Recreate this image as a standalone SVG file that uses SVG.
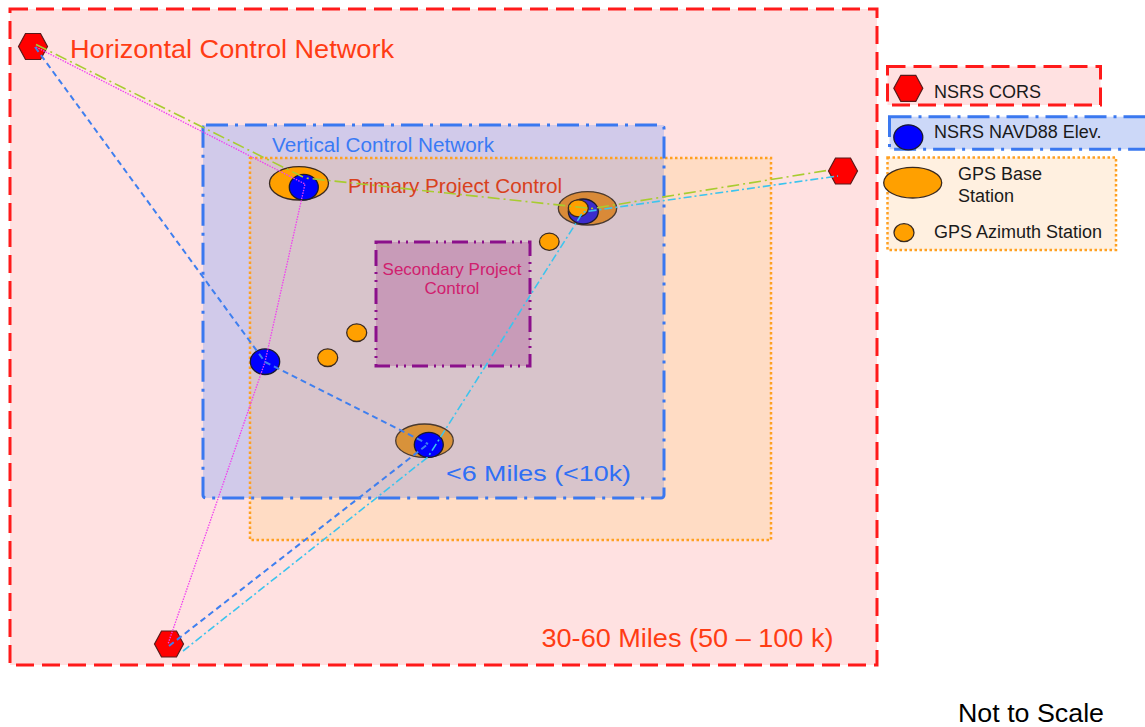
<svg xmlns="http://www.w3.org/2000/svg" width="1145" height="727" viewBox="0 0 1145 727">
<style>
text{font-family:"Liberation Sans",Arial,sans-serif}
.hex{fill:#ff0000;stroke:#5a1a1a;stroke-width:1.2}
.orng{fill:#ffa000;stroke:#3a2a20;stroke-width:1.3}
.blu{fill:#0000ff;stroke:#1a1a30;stroke-width:1.3}
.lg{font-size:18px;fill:#1a1a1a}
.c-green{fill:none;stroke:#a8cc30;stroke-width:1.6;stroke-dasharray:12,4,2,4}
.c-mag{fill:none;stroke:#f040f0;stroke-width:1.3;stroke-dasharray:1.5,1.2}
.c-blue{fill:none;stroke:#3f7fef;stroke-width:2;stroke-dasharray:6,4}
.c-cyan{fill:none;stroke:#3cc4ee;stroke-width:1.6;stroke-dasharray:8,3,2,3}
</style>
<defs>
<polygon id="hexshape" points="-14.5,0 -7.5,-13 7.5,-13 14.5,0 7.5,13 -7.5,13"/>
</defs>
<rect width="1145" height="727" fill="#ffffff"/>

<g id="regions">
<rect id="horizontal-area" x="10" y="9" width="867" height="656" fill="#ffe1e1" stroke="#ff1a1a" stroke-width="3" stroke-dasharray="18,8"/>
<rect x="250" y="158" width="521" height="382" fill="#ffdcc4"/>
<rect x="203" y="125" width="461" height="373" fill="#d1caea"/>
<rect x="250" y="158" width="414" height="340" fill="#d8c4cb"/>
<rect id="gps-area" x="250" y="158" width="521" height="382" fill="none" stroke="#ffa020" stroke-width="2.5" stroke-dasharray="2.5,2.5"/>
<rect id="vertical-area" x="203" y="125" width="461" height="373" rx="3" fill="none" stroke="#3a78f0" stroke-width="3" stroke-dasharray="22,7,3,7"/>
<rect id="secondary-area" x="376" y="242" width="154" height="124" fill="#c89bb8" stroke="#8b108b" stroke-width="3" stroke-dasharray="16,6,2,6,2,6"/>
</g>

<g id="labels">
<text x="70" y="58" font-size="26.5" fill="#ff3c14" textLength="324" lengthAdjust="spacingAndGlyphs">Horizontal Control Network</text>
<text x="272" y="151.5" font-size="20.5" fill="#3a7af5" textLength="222" lengthAdjust="spacingAndGlyphs">Vertical Control Network</text>
<text x="348" y="192.5" font-size="21" fill="#d8401c" textLength="214" lengthAdjust="spacingAndGlyphs">Primary Project Control</text>
<text x="452" y="275" font-size="17" fill="#d0206e" text-anchor="middle">Secondary Project</text>
<text x="452" y="294" font-size="17" fill="#d0206e" text-anchor="middle">Control</text>
<text x="446" y="480.5" font-size="22.5" fill="#2f6ff5" textLength="185" lengthAdjust="spacingAndGlyphs">&lt;6 Miles (&lt;10k)</text>
<text x="541.5" y="646.5" font-size="25.5" fill="#ff3c14" textLength="292" lengthAdjust="spacingAndGlyphs">30-60 Miles (50 – 100 k)</text>
<text x="958" y="721.5" font-size="25.5" fill="#000000" textLength="146" lengthAdjust="spacingAndGlyphs">Not to Scale</text>
</g>

<g id="node-cors-tl"><use href="#hexshape" class="hex" x="33" y="46.5"/></g>
<g id="node-cors-right"><use href="#hexshape" class="hex" x="843" y="171"/></g>
<g id="node-cors-bottom"><use href="#hexshape" class="hex" x="169" y="644"/></g>

<g id="node-base1">
<ellipse class="orng" cx="299" cy="183.3" rx="29.5" ry="16.7"/>
<ellipse class="blu" cx="303.8" cy="187.2" rx="14.5" ry="12.8"/>
</g>
<g id="node-base2">
<ellipse cx="587.5" cy="208.3" rx="29.2" ry="16.7" fill="#d98a38" stroke="#4a3a30" stroke-width="1.3"/>
<ellipse cx="583.3" cy="211.5" rx="15" ry="12.5" fill="#3c2ccc" stroke="#1a1a30" stroke-width="1.3"/>
<ellipse class="orng" cx="578.3" cy="208.3" rx="10" ry="8.5"/>
</g>
<g id="node-base3">
<ellipse cx="424.5" cy="440.7" rx="28.8" ry="16.7" fill="#d8923a" stroke="#4a3a30" stroke-width="1.3"/>
<ellipse class="blu" cx="428.8" cy="444.8" rx="14.5" ry="12.5"/>
</g>
<g id="node-bm1"><ellipse class="blu" cx="265" cy="361.7" rx="14.7" ry="12.8"/></g>
<g id="node-az1"><ellipse class="orng" cx="356.7" cy="332.7" rx="10" ry="8.8"/></g>
<g id="node-az2"><ellipse class="orng" cx="327.7" cy="357.7" rx="10" ry="8.8"/></g>
<g id="node-az3"><ellipse class="orng" cx="549.3" cy="241.7" rx="9.8" ry="8.6"/></g>

<g id="connectors">
<polyline class="c-green" points="36,44.5 305,178 592,208.5 830,170"/>
<polyline class="c-mag" points="36,47 305,184 265,362 168,644"/>
<polyline class="c-blue" points="35,47 265,362 428,444"/>
<polyline class="c-blue" points="169,646 428,444"/>
<polyline class="c-cyan" points="183,651 428,457 583,212 838,176"/>
</g>

<g id="legend">
<g id="legend-cors">
<rect x="887.5" y="66.5" width="213" height="38.5" fill="#ffe1e1" stroke="#ff1a1a" stroke-width="3" stroke-dasharray="18,8"/>
<use href="#hexshape" class="hex" x="908.3" y="88.3"/>
<text class="lg" x="934" y="97.5">NSRS CORS</text>
</g>
<g id="legend-navd">
<rect x="889.5" y="116.7" width="270" height="32.6" fill="#ccd8f8" stroke="#3a78f0" stroke-width="3" stroke-dasharray="22,7,3,7"/>
<ellipse class="blu" cx="908.3" cy="137.3" rx="14.5" ry="12.5"/>
<text class="lg" x="934" y="138.3">NSRS NAVD88 Elev.</text>
</g>
<g id="legend-gps">
<rect x="887.5" y="157.5" width="228.5" height="92.5" fill="#fff0e0" stroke="#ffa020" stroke-width="2.5" stroke-dasharray="2.5,2.5"/>
<ellipse class="orng" cx="912.7" cy="182.7" rx="29" ry="15.3"/>
<text class="lg" x="958" y="180">GPS Base</text>
<text class="lg" x="958" y="201.7">Station</text>
<ellipse class="orng" cx="904" cy="232.7" rx="10" ry="9"/>
<text class="lg" x="934" y="237.7">GPS Azimuth Station</text>
</g>
</g>
</svg>
